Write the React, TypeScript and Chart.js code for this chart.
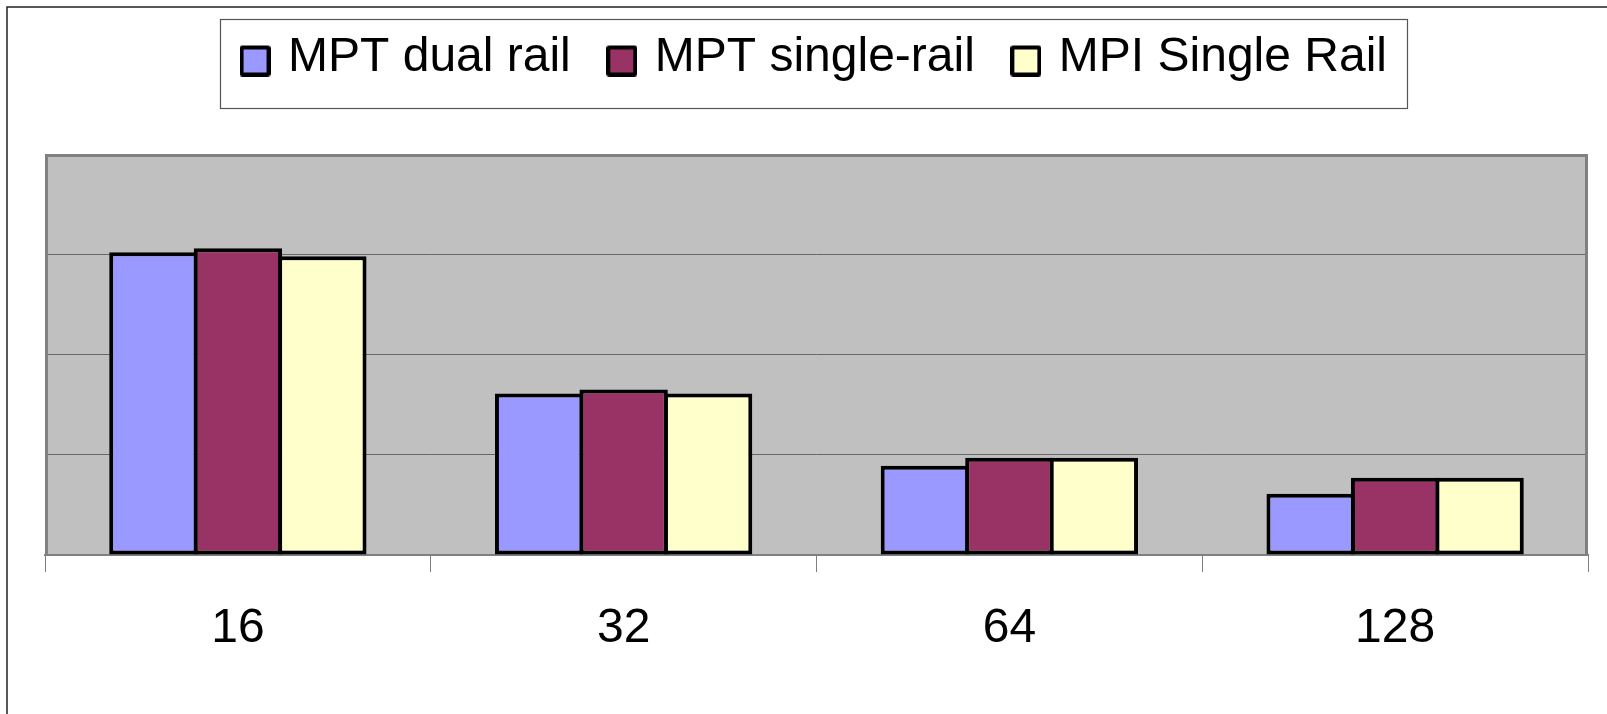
import React, { useEffect, useRef } from 'react';
import { Chart, registerables } from 'chart.js';

Chart.register(...registerables);

// ---- data ----
const categories = ['16', '32', '64', '128'];
const seriesNames = ['MPT dual rail', 'MPT single-rail', 'MPI Single Rail'];
const mptDualRail = [3.02, 1.61, 0.89, 0.61];
const mptSingleRail = [3.06, 1.65, 0.97, 0.77];
const mpiSingleRail = [2.98, 1.61, 0.97, 0.77];
const yMin = 0;
const yMax = 4;
const yStep = 1;
const seriesColors = ['#9999FF', '#993366', '#FFFFCC'];

const FONT = "'Liberation Sans', Arial, sans-serif";

function makeMarker(color: string): HTMLCanvasElement {
  const c = document.createElement('canvas');
  c.width = 31;
  c.height = 37;
  const g = c.getContext('2d') as CanvasRenderingContext2D;
  g.fillStyle = '#000';
  g.beginPath();
  if ((g as any).roundRect) (g as any).roundRect(0, 6, 31, 31, 3);
  else g.rect(0, 6, 31, 31);
  g.fill();
  g.fillStyle = color;
  g.fillRect(4, 10, 23, 23);
  return c;
}

const framePlugin = {
  id: 'frames',
  beforeDraw(chart: any) {
    const { ctx, chartArea: a } = chart;
    ctx.save();
    ctx.strokeStyle = '#222';
    ctx.lineWidth = 1.5;
    ctx.strokeRect(7, 7, chart.width + 100, chart.height + 100);
    ctx.fillStyle = '#C0C0C0';
    ctx.fillRect(a.left, a.top, a.right - a.left, a.bottom - a.top);
    ctx.restore();
  },
  beforeDatasetsDraw(chart: any) {
    const { ctx, chartArea: a } = chart;
    ctx.save();
    ctx.strokeStyle = '#808080';
    ctx.lineWidth = 3;
    ctx.beginPath();
    ctx.moveTo(a.left + 1.5, a.bottom);
    ctx.lineTo(a.left + 1.5, a.top + 1.5);
    ctx.lineTo(a.right - 1.5, a.top + 1.5);
    ctx.lineTo(a.right - 1.5, a.bottom);
    ctx.stroke();
    ctx.restore();
  },
  afterDraw(chart: any) {
    const hb = chart.legend && chart.legend.legendHitBoxes;
    if (!hb || !hb.length) return;
    const first = hb[0];
    const last = hb[hb.length - 1];
    const left = Math.round(first.left - 26) + 0.5;
    const right = Math.round(last.left + last.width + 20) + 0.5;
    const top = Math.round(first.top - 15) + 0.5;
    const bottom = Math.round(first.top + first.height + 26) + 0.5;
    const { ctx } = chart;
    ctx.save();
    ctx.strokeStyle = '#555';
    ctx.lineWidth = 1.2;
    ctx.strokeRect(left, top, right - left, bottom - top);
    ctx.restore();
  },
};

export default function App() {
  const ref = useRef<HTMLCanvasElement | null>(null);

  useEffect(() => {
    if (!ref.current) return;
    const markers = seriesColors.map(makeMarker);
    const values = [mptDualRail, mptSingleRail, mpiSingleRail];
    const chart = new Chart(ref.current, {
      type: 'bar',
      data: {
        labels: categories,
        datasets: seriesNames.map((name, i) => ({
          label: name,
          data: values[i],
          backgroundColor: seriesColors[i],
          borderColor: '#000',
          borderWidth: 4,
          borderSkipped: false,
          categoryPercentage: 0.657,
          barPercentage: 1.046,
          xAxisID: 'x',
          yAxisID: 'y',
        })),
      },
      options: {
        animation: false,
        responsive: true,
        maintainAspectRatio: false,
        layout: { padding: { left: 45, right: 19, top: -8, bottom: 0 } },
        plugins: {
          tooltip: { enabled: false },
          legend: {
            display: true,
            position: 'top',
            fullSize: false,
            labels: {
              font: { family: FONT, size: 48 },
              color: '#000',
              padding: 42,
              usePointStyle: true,
              pointStyleWidth: 18,
              generateLabels: (ch: any) => {
                const items = Chart.defaults.plugins.legend.labels.generateLabels(ch);
                return items.map((it: any, i: number) => ({ ...it, pointStyle: markers[i] }));
              },
            },
          },
        },
        scales: {
          x: {
            type: 'category',
            position: 'bottom',
            grid: {
              display: true,
              drawOnChartArea: false,
              drawTicks: true,
              tickLength: 17,
              color: '#808080',
              lineWidth: 1,
            },
            border: { display: true, color: '#808080', width: 2 },
            ticks: {
              font: { family: FONT, size: 48 },
              color: '#000',
              padding: 28,
              maxRotation: 0,
            },
            afterFit: (s: any) => {
              s.height = 159;
            },
          },
          xSpacer: {
            type: 'category',
            position: 'top',
            display: true,
            grid: { display: false, drawTicks: false },
            border: { display: false },
            ticks: { display: false },
            afterFit: (s: any) => {
              s.height = 62;
            },
          },
          y: {
            type: 'linear',
            min: yMin,
            max: yMax,
            ticks: { display: false, stepSize: yStep },
            grid: { color: '#686868', lineWidth: 1, drawTicks: false },
            border: { display: false },
            afterFit: (s: any) => {
              s.width = 0;
            },
          },
        },
      },
      plugins: [framePlugin],
    } as any);
    return () => chart.destroy();
  }, []);

  return (
    <div style={{ position: 'fixed', left: 0, top: 0, width: 1607, height: 714, background: '#fff' }}>
      <canvas ref={ref} />
    </div>
  );
}
